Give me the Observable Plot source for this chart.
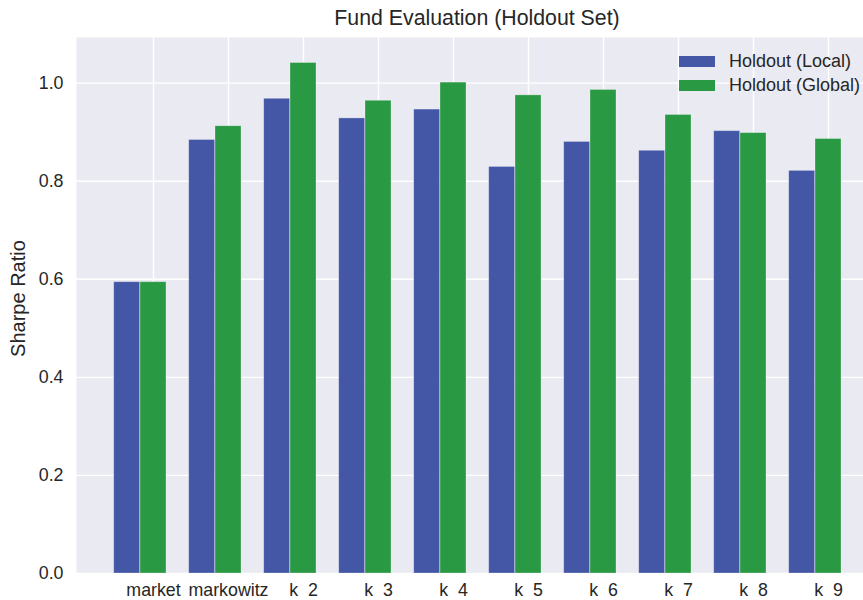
<!DOCTYPE html>
<html>
<head>
<meta charset="utf-8">
<script src="https://cdn.jsdelivr.net/npm/d3@7"></script>
<script src="https://cdn.jsdelivr.net/npm/@observablehq/plot@0.6"></script>
<style>
  html, body { margin: 0; padding: 0; background: #ffffff; overflow: hidden; }
  #wrap { position: relative; width: 878px; font-family: "Liberation Sans", Arial, sans-serif; color: #262626; }
  #title { height: 37px; width: 802px; margin-left: 76px; text-align: center; font-size: 21.3px; line-height: 37px; }
  #legend { position: absolute; left: 679px; top: 49px; font-size: 18px; }
  .item { display: flex; align-items: center; height: 24px; }
  .sw { width: 36px; height: 11px; margin-right: 14px; }
  svg text { white-space: pre; }
</style>
</head>
<body>
<div id="wrap">
  <div id="title">Fund Evaluation (Holdout Set)</div>
  <div id="chart"></div>
  <div id="legend"></div>
</div>
<script>
const categories = ["market", "markowitz", "k\u00a0 2", "k\u00a0 3", "k\u00a0 4", "k\u00a0 5", "k\u00a0 6", "k\u00a0 7", "k\u00a0 8", "k\u00a0 9"];
const localValues = [0.594, 0.884, 0.968, 0.928, 0.946, 0.829, 0.880, 0.862, 0.902, 0.821];
const globalValues = [0.594, 0.912, 1.041, 0.964, 1.001, 0.975, 0.986, 0.935, 0.898, 0.886];
const seriesNames = ["Holdout (Local)", "Holdout (Global)"];
const seriesColors = ["#4456a6", "#2a9944"];
const yTicks = [0, 0.2, 0.4, 0.6, 0.8, 1.0];

const localRows = categories.map((c, i) => ({category: c, value: localValues[i], series: seriesNames[0]}));
const globalRows = categories.map((c, i) => ({category: c, value: globalValues[i], series: seriesNames[1]}));

const W = 878, H = 563, ML = 76;
const paddingInner = 0.65;
const xRange = [139.8, 842.2];
const step = (xRange[1] - xRange[0]) / (categories.length - paddingInner);
const bw = step * (1 - paddingInner);

const chart = Plot.plot({
  width: W,
  height: H,
  marginLeft: ML,
  marginRight: 0,
  marginTop: 0,
  marginBottom: 27,
  style: {fontFamily: "'Liberation Sans', Arial, sans-serif", fontSize: "17.8px", color: "#262626", background: "transparent"},
  x: {type: "band", domain: categories, range: xRange, paddingInner, paddingOuter: 0, align: 0.5, label: null},
  y: {domain: [0, 1.093], label: null},
  color: {domain: seriesNames, range: seriesColors},
  marks: [
    Plot.frame({fill: "#eaeaf2", stroke: null}),
    Plot.gridX({stroke: "#ffffff", strokeOpacity: 1, strokeWidth: 1.4}),
    Plot.gridY(yTicks, {stroke: "#ffffff", strokeOpacity: 1, strokeWidth: 1.4}),
    Plot.barY(localRows, {x: "category", y: "value", fill: "series", dx: -bw, stroke: "#ffffff", strokeOpacity: 0.35, strokeWidth: 0.8}),
    Plot.barY(globalRows, {x: "category", y: "value", fill: "series", stroke: "#ffffff", strokeOpacity: 0.35, strokeWidth: 0.8}),
    Plot.axisX({tickSize: 0, tickPadding: 10, fontSize: 17.8, label: null}),
    Plot.axisY({ticks: yTicks, tickFormat: d3.format(".1f"), tickSize: 0, tickPadding: 13, fontSize: 17.8, label: null}),
    Plot.text(["Sharpe Ratio"], {frameAnchor: "left", textAnchor: "middle", lineAnchor: "middle", rotate: -90, dx: -58, dy: -7, fontSize: 20, fill: "#262626"})
  ]
});
document.getElementById("chart").appendChild(chart);

const legend = document.getElementById("legend");
seriesNames.forEach((name, i) => {
  const item = document.createElement("div");
  item.className = "item";
  const sw = document.createElement("div");
  sw.className = "sw";
  sw.style.background = seriesColors[i];
  const label = document.createElement("span");
  label.textContent = name;
  item.appendChild(sw);
  item.appendChild(label);
  legend.appendChild(item);
});
</script>
</body>
</html>
